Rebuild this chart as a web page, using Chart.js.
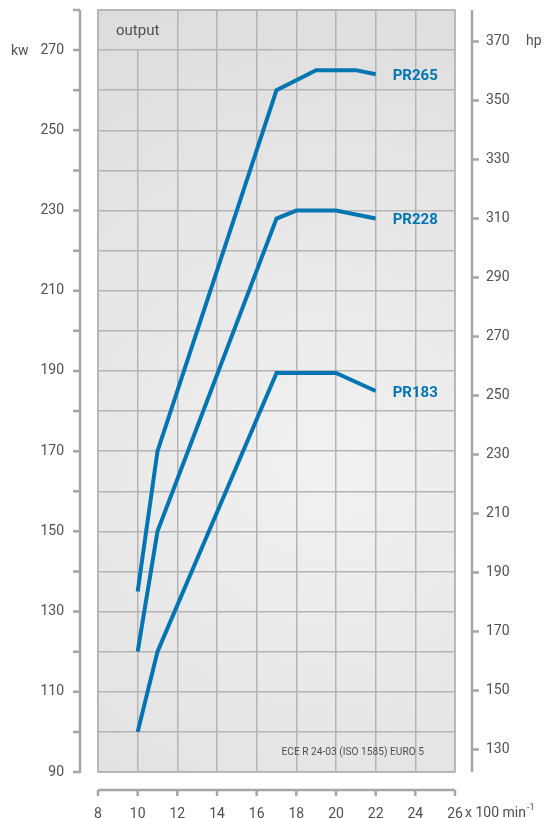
<!DOCTYPE html>
<html>
<head>
<meta charset="utf-8">
<script src="https://cdn.jsdelivr.net/npm/chart.js@4"></script>
<style>
  html, body { margin: 0; padding: 0; background: #fff; }
  #wrap { width: 546px; height: 818px; }
</style>
</head>
<body>
<div id="wrap"><canvas id="powerChart" width="546" height="818"></canvas></div>
<script>
// engine speed in x 100 min-1, output in kW
const pr265Rpm = [10, 11, 17, 19, 21, 22];
const pr265Kw = [135, 170, 260, 265, 265, 264];
const pr228Rpm = [10, 11, 17, 18, 20, 22];
const pr228Kw = [120, 150, 228, 230, 230, 228];
const pr183Rpm = [10, 11, 17, 20, 22];
const pr183Kw = [100, 120, 189.5, 189.5, 185];

const seriesNames = ['PR265', 'PR228', 'PR183'];
const hpTicks = [130, 150, 170, 190, 210, 230, 250, 270, 290, 310, 330, 350, 370];
const kwToHp = 1.3596;

const blue = '#0075b2';
const gridGrey = '#b4b4b4';
const axisGrey = '#a6a6a6';
const textGrey = '#505050';
const font = 'Roboto, "Noto Sans", sans-serif';

function toPoints(xs, ys) {
    return xs.map((x, i) => ({ x: x, y: ys[i] }));
}

let bgGradient = null;
function plotGradient(ctx, area) {
    const cx = area.left + area.width * 0.65;
    const cy = area.top + area.height * 0.6;
    const g = ctx.createRadialGradient(cx, cy, 20, cx, cy, 520);
    g.addColorStop(0, '#f1f1f1');
    g.addColorStop(1, '#dcdcdc');
    return g;
}

// keep the vertical axes from pushing the plot down
function fixVertical(width) {
    return scale => {
        scale.width = width;
        scale.paddingTop = 0;
        scale.paddingBottom = 0;
    };
}

const decorPlugin = {
    id: 'decor',
    beforeDraw(chart) {
        const { ctx, chartArea: a } = chart;
        bgGradient = plotGradient(ctx, a);
        ctx.save();
        ctx.fillStyle = bgGradient;
        ctx.fillRect(a.left, a.top, a.width, a.height);
        ctx.restore();
    },
    beforeDatasetsDraw(chart) {
        const { ctx, chartArea: a, scales } = chart;
        const x10 = scales.x.getPixelForValue(10);
        const y270 = scales.y.getPixelForValue(270);
        ctx.save();
        // the "output" cell has no divider
        ctx.fillStyle = bgGradient;
        ctx.fillRect(x10 - 2, a.top + 1, 4, y270 - a.top - 2);
        // plot frame
        ctx.strokeStyle = gridGrey;
        ctx.lineWidth = 1.5;
        ctx.strokeRect(a.left, a.top, a.width, a.height);
        ctx.fillStyle = textGrey;
        ctx.font = '15px ' + font;
        ctx.textAlign = 'center';
        ctx.textBaseline = 'middle';
        const xMid = (scales.x.getPixelForValue(8) + scales.x.getPixelForValue(12)) / 2;
        ctx.fillText('output', xMid, (a.top + y270) / 2 + 1);
        ctx.font = '10.2px ' + font;
        ctx.textAlign = 'right';
        ctx.fillText('ECE R 24-03 (ISO 1585) EURO 5', a.right - 31, a.bottom - 20);
        ctx.restore();
    },
    afterDraw(chart) {
        const { ctx, chartArea: a, scales } = chart;
        ctx.save();
        ctx.strokeStyle = axisGrey;
        ctx.lineWidth = 2.5;
        ctx.lineCap = 'butt';

        // kW axis
        const lx = a.left - 18;
        ctx.beginPath();
        ctx.moveTo(lx, a.top);
        ctx.lineTo(lx, a.bottom + 1);
        scales.y.ticks.forEach(t => {
            const y = scales.y.getPixelForValue(t.value);
            ctx.moveTo(lx, y);
            ctx.lineTo(lx - 7, y);
        });
        ctx.stroke();

        // hp axis
        const rx = a.right + 17;
        ctx.beginPath();
        ctx.moveTo(rx, a.top);
        ctx.lineTo(rx, a.bottom);
        hpTicks.forEach(v => {
            const y = scales.y2.getPixelForValue(v);
            ctx.moveTo(rx, y);
            ctx.lineTo(rx + 7, y);
        });
        ctx.stroke();

        // rpm axis
        const by = a.bottom + 18;
        ctx.beginPath();
        ctx.moveTo(a.left, by);
        ctx.lineTo(a.right, by);
        scales.x.ticks.forEach(t => {
            const x = scales.x.getPixelForValue(t.value);
            ctx.moveTo(x, by);
            ctx.lineTo(x, by + 6);
        });
        ctx.stroke();

        // unit labels
        ctx.fillStyle = textGrey;
        ctx.font = '14px ' + font;
        ctx.textBaseline = 'middle';
        ctx.textAlign = 'left';
        ctx.fillText('kw', 11, scales.y.getPixelForValue(270) + 1);
        ctx.fillText('hp', 526, scales.y2.getPixelForValue(370));
        const ux = a.right + 10;
        const uy = 813;
        ctx.fillText('x 100 min', ux, uy);
        const w = ctx.measureText('x 100 min').width;
        ctx.font = '9px ' + font;
        ctx.fillText('-1', ux + w + 1, uy - 5);

        // series names at line ends
        ctx.fillStyle = blue;
        ctx.font = 'bold 15px ' + font;
        chart.data.datasets.forEach((ds, i) => {
            const pts = chart.getDatasetMeta(i).data;
            const last = pts[pts.length - 1];
            ctx.fillText(seriesNames[i], last.x + 17, last.y + 2);
        });
        ctx.restore();
    }
};

const lineStyle = {
    borderColor: blue,
    borderWidth: 4,
    pointRadius: 0,
    tension: 0,
    fill: false
};

new Chart(document.getElementById('powerChart'), {
    type: 'line',
    data: {
        datasets: [
            { label: seriesNames[0], data: toPoints(pr265Rpm, pr265Kw), ...lineStyle },
            { label: seriesNames[1], data: toPoints(pr228Rpm, pr228Kw), ...lineStyle },
            { label: seriesNames[2], data: toPoints(pr183Rpm, pr183Kw), ...lineStyle }
        ]
    },
    options: {
        responsive: false,
        animation: false,
        layout: { padding: { top: 10, left: 0, right: 0, bottom: 0 } },
        plugins: { legend: { display: false }, tooltip: { enabled: false } },
        scales: {
            x: {
                type: 'linear',
                min: 8,
                max: 26,
                ticks: { stepSize: 2, color: textGrey, font: { family: font, size: 14 }, padding: 34, maxRotation: 0 },
                grid: { color: gridGrey, lineWidth: 1.5, drawTicks: false },
                border: { display: false },
                afterFit(scale) { scale.height = 46; }
            },
            y: {
                type: 'linear',
                position: 'left',
                min: 90,
                max: 280,
                ticks: {
                    stepSize: 10,
                    color: textGrey,
                    font: { family: font, size: 14 },
                    padding: 34,
                    callback: v => ((v - 90) % 20 === 0 && v < 280 ? v : '')
                },
                grid: { color: gridGrey, lineWidth: 1.5, drawTicks: false },
                border: { display: false },
                afterFit: fixVertical(98)
            },
            y2: {
                type: 'linear',
                position: 'right',
                min: 90 * kwToHp,
                max: 280 * kwToHp,
                afterBuildTicks(scale) { scale.ticks = hpTicks.map(v => ({ value: v })); },
                ticks: { color: textGrey, font: { family: font, size: 14 }, padding: 31 },
                grid: { drawOnChartArea: false, drawTicks: false },
                border: { display: false },
                afterFit: fixVertical(91)
            }
        }
    },
    plugins: [decorPlugin]
});
</script>
</body>
</html>
